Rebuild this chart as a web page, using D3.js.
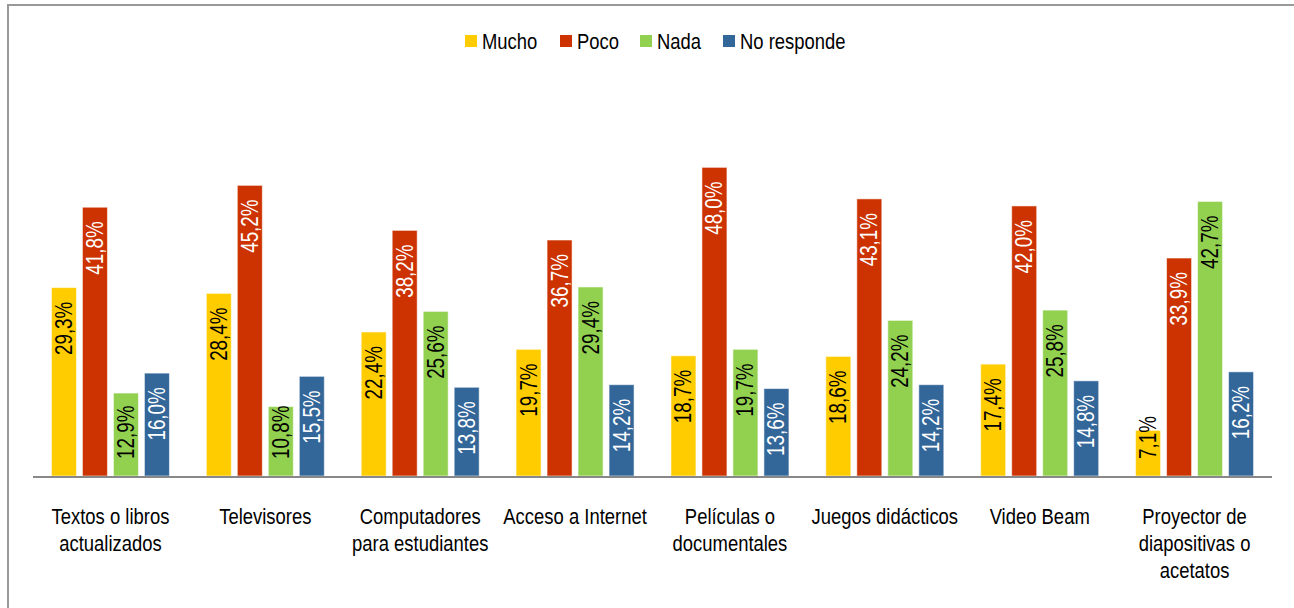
<!DOCTYPE html>
<html>
<head>
<meta charset="utf-8">
<script src="https://cdn.jsdelivr.net/npm/d3@7"></script>
<style>
  html, body { margin: 0; padding: 0; background: #fff; }
  svg { display: block; }
  text { font-family: "Liberation Sans", Arial, sans-serif; }
</style>
</head>
<body>
<div id="chart"></div>
<script>
// ── Grouped bars: recursos del aula ─────────────────
const categories = [
    'Textos o libros|actualizados',
    'Televisores',
    'Computadores|para estudiantes',
    'Acceso a Internet',
    'Películas o|documentales',
    'Juegos didácticos',
    'Video Beam',
    'Proyector de|diapositivas o|acetatos'
];
const seriesNames = ['Mucho', 'Poco', 'Nada', 'No responde'];
const mucho = [29.3, 28.4, 22.4, 19.7, 18.7, 18.6, 17.4, 7.1];
const poco = [41.8, 45.2, 38.2, 36.7, 48.0, 43.1, 42.0, 33.9];
const nada = [12.9, 10.8, 25.6, 29.4, 19.7, 24.2, 25.8, 42.7];
const noResponde = [16.0, 15.5, 13.8, 14.2, 13.6, 14.2, 14.8, 16.2];
const seriesValues = [mucho, poco, nada, noResponde];

const colors = ['#FFCC00', '#CC3300', '#92D050', '#336699'];
const labelColors = ['#000', '#fff', '#000', '#fff'];

const width = 1294, height = 608;
const baseY = 476;
const narrow = 0.82; // Arial Narrow look from Liberation Sans

const svg = d3.select('#chart')
    .append('svg')
    .attr('width', width)
    .attr('height', height);

// Frame (left + top edges visible)
svg.append('path')
    .attr('d', `M8,${height + 2} V5 H${width + 2}`)
    .attr('fill', 'none')
    .attr('stroke', '#999')
    .attr('stroke-width', 2);

// Scales
const x0 = d3.scaleBand()
    .domain(categories)
    .range([33, 1272])
    .padding(0);

const x1 = d3.scaleBand()
    .domain(seriesNames)
    .range([0, x0.bandwidth()])
    .paddingInner(0.1935)
    .paddingOuter(0.595);

const y = d3.scaleLinear()
    .domain([0, 50])
    .range([baseY, baseY - 321.5]);

// Bars
const rows = categories.map((c, i) => ({
    cat: c,
    vals: seriesNames.map((s, j) => ({ key: s, j, v: seriesValues[j][i] }))
}));

const groups = svg.append('g')
    .selectAll('g')
    .data(rows)
    .join('g')
    .attr('transform', d => `translate(${x0(d.cat)},0)`);

groups.selectAll('rect')
    .data(d => d.vals)
    .join('rect')
    .attr('x', d => x1(d.key))
    .attr('y', d => y(d.v))
    .attr('width', x1.bandwidth())
    .attr('height', d => baseY - y(d.v))
    .attr('fill', d => colors[d.j])
    .attr('stroke', 'rgba(255,255,255,0.55)')
    .attr('stroke-width', 1);

// Value labels, rotated, inside end (clamped near the base)
const fmt = v => v.toFixed(1).replace('.', ',') + '%';
groups.selectAll('text.val')
    .data(d => d.vals)
    .join('text')
    .attr('class', 'val')
    .attr('font-size', '23px')
    .attr('fill', d => labelColors[d.j])
    .attr('text-anchor', 'start')
    .text(d => fmt(d.v))
    .each(function(d) {
        const len = this.getComputedTextLength() * narrow;
        const cx = x1(d.key) + x1.bandwidth() / 2 + 8;
        const start = Math.min(y(d.v) + 14 + len, 459);
        d3.select(this).attr('transform',
            `translate(${cx},${start}) rotate(-90) scale(${narrow},1)`);
    });

// Axis baseline
svg.append('line')
    .attr('x1', 33).attr('x2', 1272)
    .attr('y1', baseY + 1).attr('y2', baseY + 1)
    .attr('stroke', '#888')
    .attr('stroke-width', 2);

// Category labels
const catLabel = svg.append('g')
    .selectAll('text')
    .data(categories)
    .join('text')
    .attr('font-size', '22.5px')
    .attr('fill', '#000')
    .attr('text-anchor', 'middle')
    .attr('transform', d => `translate(${x0(d) + x0.bandwidth() / 2},524) scale(${narrow},1)`);

catLabel.selectAll('tspan')
    .data(d => d.split('|'))
    .join('tspan')
    .attr('x', 0)
    .attr('y', (d, i) => i * 27)
    .text(d => d);

// Legend
const legendX = [465, 560, 640, 723];
const legend = svg.append('g')
    .selectAll('g')
    .data(seriesNames)
    .join('g')
    .attr('transform', (d, i) => `translate(${legendX[i]},35)`);

legend.append('rect')
    .attr('width', 12)
    .attr('height', 12)
    .attr('fill', (d, i) => colors[i]);

legend.append('text')
    .attr('transform', `translate(17,14) scale(${narrow},1)`)
    .attr('font-size', '22.5px')
    .attr('fill', '#000')
    .text(d => d);
</script>
</body>
</html>
